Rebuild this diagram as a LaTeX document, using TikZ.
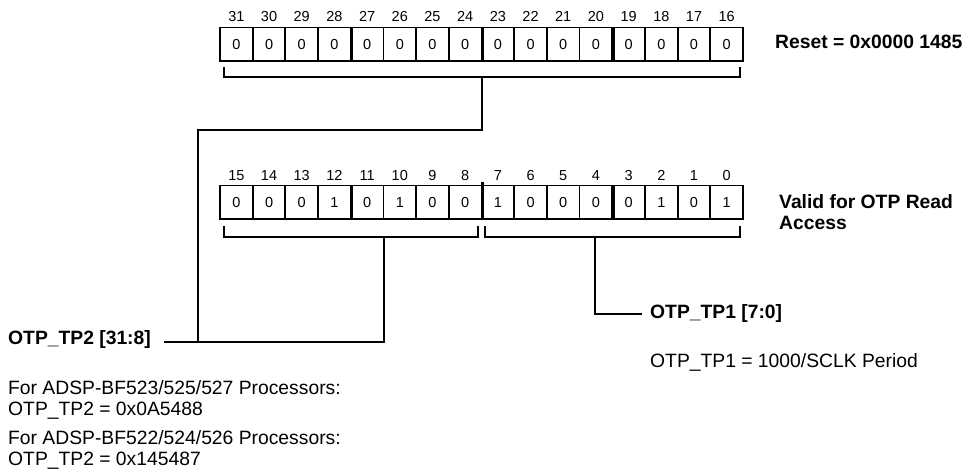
\documentclass[tikz,border=0pt]{standalone}
\usepackage{fontspec}
\setmainfont{Liberation Sans}
\usepackage{tikz}
\usetikzlibrary{positioning,calc}

\begin{document}
\begin{tikzpicture}[
  x=1pt, y=-1pt,
  cell/.style={draw, line width=1.8pt, minimum width=32.69pt, minimum height=33.5pt, inner sep=0pt, font=\fontsize{14.5}{14.5}\selectfont},
  bitno/.style={anchor=base, inner sep=0pt, font=\fontsize{14.5}{14.5}\selectfont},
  lbl/.style={inner sep=0pt, align=left, font=\fontsize{19.3}{21}\selectfont\bfseries},
  note/.style={inner sep=0pt, align=left, font=\fontsize{19.3}{21}\selectfont},
  wire/.style={line width=2pt},
  nibble/.style={line width=3.2pt},
]
\useasboundingbox (0,0) rectangle (962,469);

% upper half of the register
\foreach \b [count=\k from 0] in {31,...,16} {
  \node[cell] (t\b) at ({220+(\k+0.5)*32.69},44.25) {0};
  \node[bitno] (tn\b) at ({220+(\k+0.5)*32.69},21) {\b};
}
% lower half of the register
\foreach \b/\v [count=\k from 0] in {15/0,14/0,13/0,12/1,11/0,10/1,9/0,8/0,7/1,6/0,5/0,4/0,3/0,2/1,1/0,0/1} {
  \node[cell] (b\b) at ({220+(\k+0.5)*32.69},202.25) {\v};
  \node[bitno] (bn\b) at ({220+(\k+0.5)*32.69},180) {\b};
}

\draw[nibble] (t28.north east) -- (t28.south east);
\draw[nibble] (t24.north east) -- (t24.south east);
\draw[nibble] (t20.north east) -- (t20.south east);
\draw[nibble] (b12.north east) -- (b12.south east);
\draw[nibble] ([yshift=3pt]b8.north east) -- (b8.south east);
\draw[nibble] (b4.north east) -- (b4.south east);

\node[lbl, anchor=base west] (reset) at (775,48) {Reset = 0x0000 1485};
\node[lbl, anchor=north west] (valid) at (779,194.5) {Valid for OTP Read\\Access};

\node[lbl, anchor=base west] (tp2) at (8,344) {OTP\_TP2 [31:8]};
\node[lbl, anchor=base west] (tp1) at (650,318) {OTP\_TP1 [7:0]};
\node[note, anchor=base west] (tp1val) at (650,367) {OTP\_TP1 = 1000/SCLK Period};
\node[note, anchor=north west] (bf523) at (8,380) {For ADSP-BF523/525/527 Processors:\\OTP\_TP2 = 0x0A5488};
\node[note, anchor=north west] (bf522) at (8,430) {For ADSP-BF522/524/526 Processors:\\OTP\_TP2 = 0x145487};

% brackets under the fields
\draw[wire] (224,67) |- (740,77) -- (740,67);
\draw[wire] (224,226) |- (478,237) -- (478,226);
\draw[wire] (485,226) |- (740,237) -- (740,226);

\coordinate (tbrk) at (482,77);
\coordinate (lbrk) at (384,237);
\coordinate (rbrk) at (595,237);
\coordinate (tp2end) at (164,342);
\coordinate (tp1end) at (642,314);

\draw[wire] (tbrk) -- (482,130) -| (198,342);
\draw[wire] (tp2end) -| (lbrk);
\draw[wire] (rbrk) |- (tp1end);

\end{tikzpicture}
\end{document}
